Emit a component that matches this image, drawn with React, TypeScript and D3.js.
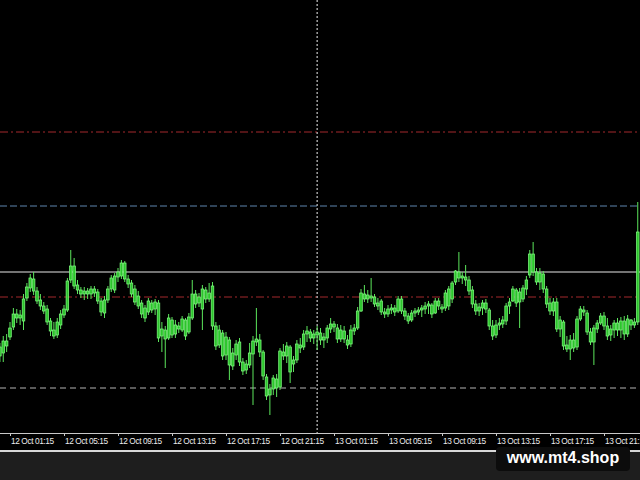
import React from "react";
import * as d3 from "d3";

// 15-minute candles, price in points
const firstCandle = "2023 12 Oct 00:30";
const opens = [
  144,147,159,163,173,186,182,179,202,212, 221,209,200,194,191,179,170,165,175,185,
  190,220,234,215,210,206,209,206,211,208, 199,187,200,211,210,223,224,237,221,217,
  211,204,197,182,188,197,191,197,164,170, 162,180,166,174,170,180,168,182,206,197,
  191,210,201,214,174,155,167,145,160,134, 145,158,138,130,135,146,158,160,148,123,
  105,111,121,113,148,144,153,136,140,155, 153,166,168,162,165,167,160,162,171,176,
  172,161,169,160,156,169,172,189,206,201, 204,203,197,199,188,186,190,192,189,201,
  189,184,180,187,188,190,191,194,195,187, 199,193,192,194,201,218,228,222,223,220,
  210,196,189,192,197,190,174,165,175,176, 179,194,199,210,198,201,211,225,246,228,
  218,226,211,197,189,198,171,178,155,151, 160,153,181,190,187,168,158,171,177,184,
  174,165,170,177,170,179,166,180,175,178,
];
const highs = [
  157,164,166,178,192,191,190,206,217,226, 228,213,206,198,195,182,178,182,190,195,
  222,250,242,220,213,213,212,214,214,211, 202,204,214,225,227,232,240,239,225,220,
  215,209,200,195,202,200,201,200,178,174, 186,183,180,178,184,182,187,220,210,207,
  215,213,217,218,178,175,170,168,163,152, 160,162,142,140,157,164,192,166,150,126,
  116,125,126,152,156,158,155,144,160,162, 170,174,171,170,174,172,167,175,182,179,
  176,175,174,165,175,176,193,211,215,210, 222,206,202,201,192,195,196,195,204,204,
  192,187,190,192,193,195,198,199,197,202, 202,196,210,214,219,230,248,228,235,224,
  214,200,197,200,201,192,180,180,182,184, 197,202,214,212,212,215,224,250,258,232,
  232,229,214,202,202,202,184,180,164,165, 167,184,194,194,190,172,175,180,187,188,
  182,175,180,182,183,184,185,181,182,298,
];
const lows = [
  138,138,148,160,170,177,175,170,199,208, 205,196,190,186,175,164,161,162,171,182,
  188,217,211,206,202,200,201,201,203,196, 184,182,197,208,207,218,221,218,212,203,
  195,191,182,178,185,187,185,158,148,132, 160,162,162,167,168,160,166,180,192,193,
  170,197,198,170,150,152,140,140,120,130, 140,134,125,126,132,95,154,143,120,100,
  85,105,103,110,140,137,117,128,137,147, 150,158,158,156,150,155,152,157,167,168,
  157,158,157,151,153,165,170,188,198,197, 198,193,190,185,182,183,186,184,187,186,
  180,176,178,183,185,183,186,186,182,186, 190,187,189,190,197,215,218,216,214,205,
  192,185,184,185,187,170,160,162,170,172, 175,186,198,193,172,198,205,222,224,215,
  210,207,192,185,184,168,163,150,148,140, 148,150,179,184,165,155,135,167,175,170,
  160,159,162,164,162,160,163,170,172,175,
];
const closes = [
  153,159,154,172,186,182,185,201,213,222, 209,199,194,189,178,169,164,178,186,191,
  219,234,214,210,206,209,206,211,207,199, 188,200,211,222,224,228,237,221,216,206,
  198,194,186,192,199,190,198,162,171,161, 182,165,175,171,181,164,183,206,196,203,
  211,201,207,174,154,170,144,163,135,147, 156,138,129,136,147,159,161,148,124,104,
  111,122,112,149,144,154,128,140,156,152, 166,169,162,166,168,160,163,172,176,173,
  161,170,161,155,170,172,189,207,201,205, 202,196,194,188,186,191,192,188,201,189,
  184,179,187,189,190,192,194,196,186,199, 194,191,207,211,217,229,222,224,220,209,
  196,189,193,197,191,174,164,175,177,180, 194,198,211,197,208,212,220,246,228,218,
  227,211,196,189,198,171,180,154,151,160, 152,181,191,188,168,158,172,177,184,174,
  164,171,177,170,179,166,181,175,178,268,
];

const levelValues = [368, 294, 228, 203, 112];
const tickLabels = [
  "11 Oct 21:15", "12 Oct 01:15", "12 Oct 05:15", "12 Oct 09:15", "12 Oct 13:15",
  "12 Oct 17:15", "12 Oct 21:15", "13 Oct 01:15", "13 Oct 05:15", "13 Oct 09:15",
  "13 Oct 13:15", "13 Oct 17:15", "13 Oct 21:15",
];
const separatorTime = "2023 13 Oct 00:00";
const watermark = "www.mt4.shop";

const W = 640;
const H = 480;
const axisY = 433;

const parse = d3.timeParse("%Y %d %b %H:%M");

const levelStyles = [
  { stroke: "#a3282c", dash: "8,3,2,3", width: 1 },
  { stroke: "#5f86b0", dash: "7,3", width: 1 },
  { stroke: "#9a9a9a", dash: null, width: 1.5 },
  { stroke: "#a3282c", dash: "8,3,2,3", width: 1 },
  { stroke: "#b4b4b4", dash: "6,4", width: 1 },
];

export default function App() {
  const tickDates = tickLabels.map((t) => parse("2023 " + t) as Date);
  const x = d3
    .scaleTime()
    .domain([tickDates[1], tickDates[12]])
    .range([10, 604]);
  const y = d3.scaleLinear().domain([67, 500]).range([axisY, 0]);
  const start = parse(firstCandle) as Date;
  const candles = opens.map((o, i) => ({
    t: d3.timeMinute.offset(start, 15 * i),
    o,
    h: highs[i],
    l: lows[i],
    c: closes[i],
  }));
  const bodyW = 2.6;
  const sepX = x(parse(separatorTime) as Date);

  return (
    <svg
      width={W}
      height={H}
      style={{ position: "absolute", left: 0, top: 0, display: "block", background: "#000" }}
    >
      <defs>
        <clipPath id="plot">
          <rect x={0} y={0} width={W} height={axisY} />
        </clipPath>
      </defs>
      <rect x={0} y={0} width={W} height={H} fill="#000" />
      <g clipPath="url(#plot)">
        {levelValues.map((v, i) => (
          <line
            key={"lv" + i}
            x1={0}
            x2={W}
            y1={y(v)}
            y2={y(v)}
            stroke={levelStyles[i].stroke}
            strokeWidth={levelStyles[i].width}
            strokeDasharray={levelStyles[i].dash ?? undefined}
          />
        ))}
        <line
          x1={sepX}
          x2={sepX}
          y1={0}
          y2={axisY}
          stroke="#f0f0f0"
          strokeWidth={1}
          strokeDasharray="2,2"
        />
        {candles.map((d, i) => {
          const cx = x(d.t);
          const top = y(Math.max(d.o, d.c));
          const bot = y(Math.min(d.o, d.c));
          return (
            <g key={i}>
              <line
                x1={cx}
                x2={cx}
                y1={y(Math.max(d.h, d.o, d.c))}
                y2={y(Math.min(d.l, d.o, d.c))}
                stroke="#5ce65c"
                strokeWidth={1}
              />
              <rect
                x={cx - bodyW / 2}
                y={top}
                width={bodyW}
                height={Math.max(1, bot - top)}
                fill="#2cc42c"
                stroke="#86ff86"
                strokeWidth={0.7}
              />
            </g>
          );
        })}
      </g>
      <line x1={0} x2={W} y1={axisY + 0.5} y2={axisY + 0.5} stroke="#c8c8c8" strokeWidth={1} />
      {tickDates.map((t, i) => {
        const tx = Math.round(x(t)) + 0.5;
        return (
          <g key={"t" + i}>
            <line x1={tx} x2={tx} y1={axisY} y2={axisY + 3} stroke="#c8c8c8" strokeWidth={1} />
            <text
              x={tx + 0.5}
              y={444}
              fill="#ececec"
              fontFamily="'Liberation Sans', Arial, sans-serif"
              fontSize={8.3}
              letterSpacing={-0.4}
            >
              {tickLabels[i]}
            </text>
          </g>
        );
      })}
      <rect x={0} y={452} width={W} height={H - 452} fill="#1e1e1e" />
      <rect x={0} y={450} width={W} height={2} fill="#d8d8d8" />
      <rect x={496} y={447} width={134} height={24} rx={4} fill="#0c0c0c" />
      <text
        x={563}
        y={463}
        textAnchor="middle"
        fill="#ffffff"
        fontFamily="'Liberation Sans', Arial, sans-serif"
        fontWeight="bold"
        fontSize={16}
      >
        {watermark}
      </text>
    </svg>
  );
}
